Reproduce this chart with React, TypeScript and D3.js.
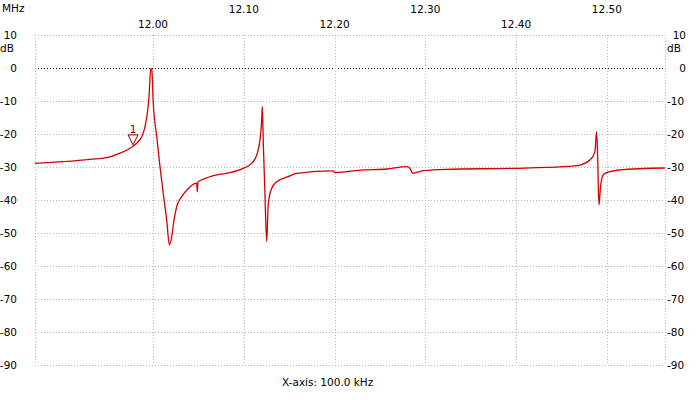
import React from "react";
import * as d3 from "d3";

const freqMHz = [
  11.8700, 11.9012, 11.9306, 11.9526, 11.9637, 11.9747, 11.9820, 11.9876, 11.9912, 11.9937,
  11.9956, 11.9975, 11.9986, 12.0003, 12.0041, 12.0077, 12.0113, 12.0151, 12.0180, 12.0206,
  12.0231, 12.0261, 12.0316, 12.0389, 12.0481, 12.0488, 12.0496, 12.0554, 12.0702, 12.0848,
  12.0994, 12.1087, 12.1142, 12.1178, 12.1197, 12.1204, 12.1215, 12.1233, 12.1252, 12.1270,
  12.1307, 12.1362, 12.1509, 12.1583, 12.1986, 12.2004, 12.2316, 12.2574, 12.2794, 12.2830,
  12.2860, 12.2977, 12.3235, 12.3968, 12.4519, 12.4703, 12.4813, 12.4868, 12.4886, 12.4897,
  12.4912, 12.4930, 12.4959, 12.5033, 12.5143, 12.5639,
];
const levelDb = [
  -28.9, -28.4, -27.7, -26.9, -25.8, -24.3, -22.8, -20.8, -17.8, -13.7,
  -8.7, -0.2, -0.5, -10.7, -20.8, -29.9, -38.0, -46.1, -53.6, -51.1,
  -46.1, -42.0, -39.0, -36.5, -34.9, -37.5, -34.5, -33.7, -32.4, -31.7,
  -30.4, -28.9, -26.4, -21.8, -15.8, -11.7, -22.8, -38.0, -52.6, -41.0,
  -36.5, -34.5, -32.7, -31.9, -31.2, -31.7, -30.9, -30.6, -29.9, -30.4,
  -31.9, -31.1, -30.7, -30.4, -29.9, -29.4, -27.9, -25.4, -19.3, -25.8,
  -41.5, -36.0, -32.4, -31.4, -30.9, -30.3,
];
const xTicks = [12.0, 12.1, 12.2, 12.3, 12.4, 12.5];
const yTicks = [10, 0, -10, -20, -30, -40, -50, -60, -70, -80, -90];
const markerFreq = 11.978;
const markerDb = -23.3;
const markerLabel = "1";
const xUnit = "MHz";
const yUnit = "dB";
const footer = "X-axis: 100.0 kHz";

const W = 700, H = 400;
const L = 35, R = 665, T = 35, B = 365;
const FONT = "'DejaVu Sans', sans-serif";

export default function App() {
  const x = d3.scaleLinear().domain([11.87, 12.564]).range([L, R]);
  const y = d3.scaleLinear().domain([10, -90]).range([T, B]);
  const data = freqMHz.map((f, i) => [f, levelDb[i]] as [number, number]);
  const line = d3.line<[number, number]>().x(d => x(d[0])).y(d => y(d[1])).curve(d3.curveMonotoneX);
  const mx = x(markerFreq), my = y(markerDb);
  return (
    <svg width={W} height={H} style={{ position: "absolute", left: 0, top: 0, background: "#fff" }}
      fontFamily={FONT} fontSize={10.5}>
      <rect x={0} y={0} width={W} height={H} fill="#fff" />
      {yTicks.map(t => (
        <line key={"h" + t} x1={L} x2={R} y1={y(t)} y2={y(t)}
          stroke={t === 0 ? "#000" : "#b8b8b8"} strokeWidth={1} strokeDasharray="1,2"
          shapeRendering="crispEdges" />
      ))}
      {[L, ...xTicks.map(t => x(t)), R].map((px, i) => (
        <line key={"v" + i} x1={Math.round(px) + 0.5} x2={Math.round(px) + 0.5} y1={T} y2={B}
          stroke="#b8b8b8" strokeWidth={1} strokeDasharray="1,2" />
      ))}
      {xTicks.map((t, i) => (
        <text key={"xt" + t} x={x(t)} y={i % 2 === 0 ? 28 : 13} textAnchor="middle" fill="#000">
          {t.toFixed(2)}
        </text>
      ))}
      <text x={2} y={12} fill="#000">{xUnit}</text>
      {yTicks.map(t => (
        <text key={"yl" + t} x={17} y={y(t) + 4} textAnchor="end" fill="#000">{t}</text>
      ))}
      {yTicks.map(t => (
        <text key={"yr" + t} x={t < 0 ? 667 : 686} y={y(t) + 4} textAnchor={t < 0 ? "start" : "end"} fill="#000">{t}</text>
      ))}
      <text x={0} y={52} fill="#000">{yUnit}</text>
      <text x={667} y={52} fill="#000">{yUnit}</text>
      <path d={line(data) ?? ""} fill="none" stroke="#d40000" strokeWidth={1.3} strokeLinejoin="round" />
      <g stroke="#800000" fill="none" strokeWidth={1}>
        <path d={`M${mx - 5},${my - 10} L${mx + 5},${my - 10} L${mx},${my} Z`} />
      </g>
      <text x={mx} y={my - 12} textAnchor="middle" fill="#800000" fontSize={10.5}>{markerLabel}</text>
      <text x={282} y={386} fill="#000">{footer}</text>
    </svg>
  );
}
